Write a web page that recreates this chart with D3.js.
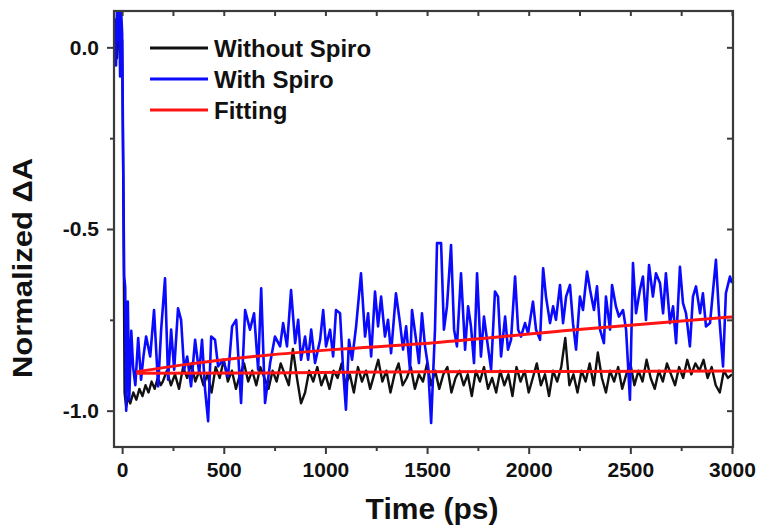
<!DOCTYPE html>
<html lang="en">
<head>
<meta charset="utf-8">
<title>Normalized dA vs time</title>
<script src="https://cdn.jsdelivr.net/npm/d3@7/dist/d3.min.js"></script>
<style>
  body { margin: 0; background: #fff; }
  text { font-family: "Liberation Sans", Arial, sans-serif; font-weight: bold; fill: #111; }
</style>
</head>
<body>
<script>

// data: [time (ps), normalized dA]

var withoutSpiro = [
  [-35, 0.02], [-25, -0.03], [-15, 0.05], [-5, 0.00], [0, 0.02], [6, -0.40], [12, -0.95],
  [20, -0.99], [30, -0.96], [40, -0.98], [55, -0.95], [70, -0.97], [85, -0.94], [100, -0.96],
  [115, -0.93], [130, -0.95], [145, -0.92], [160, -0.94], [175, -0.91], [190, -0.93],
  [200, -0.92], [220, -0.89], [240, -0.93], [260, -0.90], [280, -0.94], [300, -0.88],
  [320, -0.91], [340, -0.87], [360, -0.92], [380, -0.89], [400, -0.93], [420, -0.90],
  [440, -0.95], [460, -0.88], [480, -0.91], [500, -0.86], [520, -0.92], [540, -0.89],
  [560, -0.94], [580, -0.90], [600, -0.87], [620, -0.92], [640, -0.89], [660, -0.93],
  [680, -0.88], [700, -0.91], [720, -0.94], [740, -0.89], [760, -0.92], [780, -0.87],
  [800, -0.90], [820, -0.93], [840, -0.83], [860, -0.91], [880, -0.98], [900, -0.95],
  [920, -0.89], [940, -0.92], [960, -0.88], [980, -0.93], [1000, -0.90], [1020, -0.94],
  [1040, -0.89], [1060, -0.91], [1080, -0.87], [1100, -0.93], [1120, -0.90], [1140, -0.95],
  [1160, -0.88], [1180, -0.92], [1200, -0.89], [1220, -0.94], [1240, -0.90], [1260, -0.86],
  [1280, -0.92], [1300, -0.89], [1320, -0.95], [1340, -0.90], [1360, -0.87], [1380, -0.93],
  [1400, -0.91], [1420, -0.88], [1440, -0.94], [1460, -0.90], [1480, -0.92], [1500, -0.87],
  [1520, -0.93], [1540, -0.89], [1560, -0.94], [1580, -0.90], [1600, -0.88], [1620, -0.95],
  [1640, -0.91], [1660, -0.89], [1680, -0.93], [1700, -0.90], [1720, -0.96], [1740, -0.89],
  [1760, -0.92], [1780, -0.88], [1800, -0.94], [1820, -0.91], [1840, -0.95], [1860, -0.89],
  [1880, -0.93], [1900, -0.90], [1920, -0.96], [1940, -0.88], [1960, -0.92], [1980, -0.89],
  [2000, -0.95], [2020, -0.91], [2040, -0.87], [2060, -0.93], [2080, -0.90], [2100, -0.96],
  [2120, -0.89], [2140, -0.92], [2160, -0.88], [2180, -0.80], [2200, -0.93], [2220, -0.90],
  [2240, -0.95], [2260, -0.89], [2280, -0.92], [2300, -0.87], [2320, -0.93], [2340, -0.84],
  [2360, -0.91], [2380, -0.95], [2400, -0.89], [2420, -0.92], [2440, -0.88], [2460, -0.94],
  [2480, -0.90], [2500, -0.87], [2520, -0.93], [2540, -0.89], [2560, -0.92], [2580, -0.86],
  [2600, -0.91], [2620, -0.94], [2640, -0.89], [2660, -0.92], [2680, -0.87], [2700, -0.90],
  [2720, -0.93], [2740, -0.88], [2760, -0.91], [2780, -0.86], [2800, -0.90], [2820, -0.87],
  [2840, -0.89], [2860, -0.86], [2880, -0.91], [2900, -0.88], [2920, -0.93], [2940, -0.95],
  [2960, -0.89], [2980, -0.91], [3000, -0.90]
];

var withSpiro = [
  [-35, 0.08], [-30, -0.05], [-25, 0.12], [-20, 0.02], [-15, 0.15], [-10, -0.08], [-5, 0.10],
  [0, 0.04], [5, -0.30], [10, -0.63], [15, -0.66], [20, -1.00], [28, -0.70], [35, -0.97],
  [45, -0.78], [54, -0.88], [65, -0.93], [79, -0.80], [93, -0.915], [105, -0.85], [118, -0.796],
  [138, -0.851], [157, -0.723], [177, -0.933], [192, -0.777], [211, -0.636], [226, -0.915],
  [241, -0.777], [256, -0.887], [275, -0.718], [290, -0.750], [305, -0.887], [320, -0.851],
  [339, -0.933], [359, -0.805], [379, -0.897], [393, -0.805], [408, -0.942], [423, -1.029],
  [438, -0.796], [457, -0.805], [472, -0.878], [497, -0.860], [521, -0.906], [541, -0.768],
  [561, -0.750], [585, -0.979], [605, -0.723], [629, -0.777], [649, -0.732], [669, -0.887],
  [684, -0.663], [703, -0.979], [728, -0.869], [752, -0.796], [777, -0.823], [792, -0.759],
  [811, -0.823], [831, -0.668], [851, -0.814], [866, -0.750], [880, -0.860], [900, -0.796],
  [915, -0.860], [930, -0.777], [949, -0.869], [974, -0.805], [989, -0.723], [1003, -0.823],
  [1023, -0.777], [1038, -0.851], [1052, -0.723], [1072, -0.732], [1087, -0.887], [1101, -0.997],
  [1116, -0.805], [1131, -0.860], [1151, -0.768], [1175, -0.622], [1195, -0.796], [1210, -0.732],
  [1225, -0.851], [1244, -0.672], [1259, -0.768], [1274, -0.686], [1293, -0.796], [1308, -0.750],
  [1323, -0.842], [1347, -0.677], [1367, -0.759], [1382, -0.832], [1397, -0.768], [1416, -0.887],
  [1426, -0.723], [1446, -0.805], [1460, -0.869], [1475, -0.732], [1490, -0.823], [1505, -0.878],
  [1520, -1.034], [1539, -0.777], [1549, -0.539], [1569, -0.539], [1583, -0.777], [1598, -0.713],
  [1618, -0.544], [1633, -0.777], [1647, -0.823], [1667, -0.622], [1687, -0.832], [1702, -0.713],
  [1716, -0.768], [1731, -0.869], [1746, -0.622], [1765, -0.851], [1780, -0.741], [1795, -0.805],
  [1815, -0.887], [1834, -0.672], [1849, -0.686], [1864, -0.851], [1884, -0.741], [1898, -0.832],
  [1913, -0.805], [1933, -0.631], [1948, -0.777], [1962, -0.796], [1982, -0.759], [1997, -0.787],
  [2021, -0.700], [2036, -0.777], [2056, -0.805], [2071, -0.608], [2085, -0.686], [2105, -0.759],
  [2120, -0.713], [2134, -0.750], [2154, -0.654], [2169, -0.759], [2184, -0.686], [2203, -0.654],
  [2218, -0.760], [2233, -0.832], [2252, -0.686], [2267, -0.723], [2287, -0.617], [2302, -0.668],
  [2321, -0.723], [2336, -0.658], [2351, -0.777], [2370, -0.814], [2380, -0.686], [2400, -0.777],
  [2410, -0.654], [2429, -0.713], [2444, -0.741], [2464, -0.723], [2479, -0.777], [2498, -0.970],
  [2513, -0.594], [2528, -0.732], [2547, -0.668], [2562, -0.631], [2577, -0.750], [2592, -0.599],
  [2611, -0.686], [2626, -0.622], [2646, -0.649], [2661, -0.732], [2675, -0.622], [2695, -0.759],
  [2710, -0.713], [2725, -0.814], [2744, -0.604], [2759, -0.704], [2774, -0.732], [2793, -0.823],
  [2808, -0.686], [2823, -0.658], [2843, -0.732], [2857, -0.677], [2872, -0.768], [2892, -0.759],
  [2907, -0.668], [2921, -0.585], [2936, -0.732], [2956, -0.878], [2970, -0.677], [2990, -0.631],
  [3000, -0.649]
];

var fitWithout = [[70, -0.897], [700, -0.896], [1500, -0.893], [2230, -0.892], [3000, -0.891]];
var fitWith = [[70, -0.893], [300, -0.874], [700, -0.848], [1040, -0.832], [1470, -0.816], [2230, -0.777], [3000, -0.742]];

var seriesNames = ["Without Spiro", "With Spiro", "Fitting"];
var seriesColors = ["#111111", "#0a0aff", "#ff1414"];

var xTicks = [0, 500, 1000, 1500, 2000, 2500, 3000];
var xMinor = [250, 750, 1250, 1750, 2250, 2750];
var yTicks = [0.0, -0.5, -1.0];
var yMinor = [-0.25, -0.75];

var W = 759, H = 526;
var mLeft = 114, mRight = 733, mTop = 11, mBottom = 447;

var svg = d3.select("body").append("svg")
    .attr("width", W)
    .attr("height", H);

var x = d3.scaleLinear().domain([-40, 3005]).range([mLeft, mRight]);
var y = d3.scaleLinear().domain([-1.1, 0.1]).range([mBottom, mTop]);

svg.append("defs").append("clipPath").attr("id", "plotclip")
   .append("rect")
   .attr("x", mLeft).attr("y", mTop)
   .attr("width", mRight - mLeft).attr("height", mBottom - mTop);

var line = d3.line()
    .x(function(d) { return x(d[0]); })
    .y(function(d) { return y(d[1]); });

var plot = svg.append("g").attr("clip-path", "url(#plotclip)");

plot.append("path").datum(withoutSpiro)
    .attr("d", line).attr("fill", "none")
    .attr("stroke", seriesColors[0]).attr("stroke-width", 2.4).attr("stroke-linejoin", "round");

plot.append("path").datum(withSpiro)
    .attr("d", line).attr("fill", "none")
    .attr("stroke", seriesColors[1]).attr("stroke-width", 2.6).attr("stroke-linejoin", "round");

var fitLine = d3.line().curve(d3.curveMonotoneX)
    .x(function(d) { return x(d[0]); })
    .y(function(d) { return y(d[1]); });

[fitWithout, fitWith].forEach(function(f) {
  plot.append("path").datum(f)
      .attr("d", fitLine).attr("fill", "none")
      .attr("stroke", seriesColors[2]).attr("stroke-width", 3);
});

// axes: bottom + left outward with labels, top + right inward without
var frameColor = "#3a3a3a";

function styleAxis(g) {
  g.select(".domain").remove();
  g.selectAll("line").attr("stroke", frameColor).attr("stroke-width", 2);
  g.selectAll("text").style("font-size", "21px").attr("fill", "#111");
}

svg.append("g").attr("transform", "translate(0," + mBottom + ")")
   .call(d3.axisBottom(x).tickValues(xTicks).tickSize(7).tickPadding(8).tickFormat(d3.format("d")))
   .call(styleAxis);
svg.append("g").attr("transform", "translate(0," + mBottom + ")")
   .call(d3.axisBottom(x).tickValues(xMinor).tickSize(4).tickFormat(""))
   .call(styleAxis);

svg.append("g").attr("transform", "translate(0," + mTop + ")")
   .call(d3.axisBottom(x).tickValues(xTicks.concat(xMinor)).tickSize(5).tickFormat(""))
   .call(styleAxis);

svg.append("g").attr("transform", "translate(" + mLeft + ",0)")
   .call(d3.axisLeft(y).tickValues(yTicks).tickSize(7).tickPadding(8).tickFormat(d3.format(".1f")))
   .call(styleAxis);
svg.append("g").attr("transform", "translate(" + mLeft + ",0)")
   .call(d3.axisLeft(y).tickValues(yMinor).tickSize(4).tickFormat(""))
   .call(styleAxis);

svg.append("g").attr("transform", "translate(" + mRight + ",0)")
   .call(d3.axisLeft(y).tickValues(yTicks.concat(yMinor)).tickSize(6).tickFormat(""))
   .call(styleAxis);

// minus sign as plain hyphen like the original
svg.selectAll("text").each(function() {
  var t = d3.select(this);
  t.text(t.text().replace("\u2212", "-"));
});

svg.append("rect")
   .attr("x", mLeft).attr("y", mTop)
   .attr("width", mRight - mLeft).attr("height", mBottom - mTop)
   .attr("fill", "none").attr("stroke", frameColor).attr("stroke-width", 2.2);

// axis titles
svg.append("text")
   .attr("x", 432).attr("y", 519)
   .attr("text-anchor", "middle")
   .style("font-size", "30px")
   .text("Time (ps)");

svg.append("text")
   .attr("transform", "translate(32,268) rotate(-90)")
   .attr("text-anchor", "middle")
   .style("font-size", "27px")
   .attr("textLength", 220).attr("lengthAdjust", "spacingAndGlyphs")
   .text("Normalized \u0394A");

// legend
var legend = svg.append("g");
seriesNames.forEach(function(name, i) {
  var ly = [48, 79, 110][i];
  legend.append("line")
        .attr("x1", 150).attr("x2", 208)
        .attr("y1", ly).attr("y2", ly)
        .attr("stroke", seriesColors[i]).attr("stroke-width", 3);
  legend.append("text")
        .attr("x", 214).attr("y", ly + 9)
        .style("font-size", "24px")
        .text(name);
});

</script>
</body>
</html>
